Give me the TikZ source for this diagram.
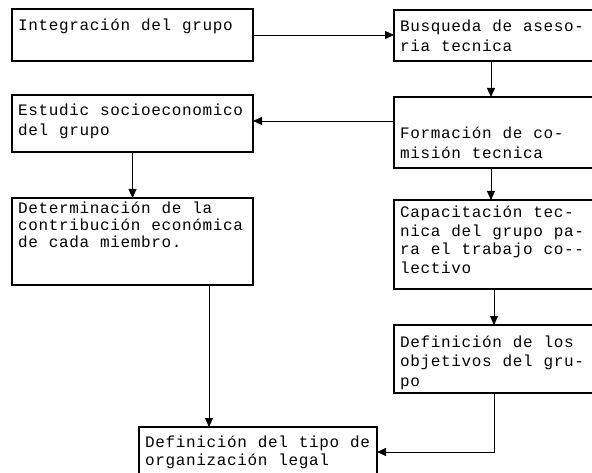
\documentclass[tikz,border=0pt]{standalone}
\usepackage{fontspec}
\newfontfamily\monotxt[LetterSpace=4,WordSpace=1.067]{Liberation Mono}
\usetikzlibrary{arrows.meta,calc}
\begin{document}
\begin{tikzpicture}[x=1pt,y=-1pt,
  box/.style={draw, line width=1.4pt, inner sep=0pt, outer sep=0pt},
  lbl/.style={anchor=north west, inner sep=0pt, align=left,
    font=\monotxt\fontsize{16}{#1}\selectfont},
  lbl/.default=18.5,
  conn/.style={line width=0.9pt, -{Triangle[length=9pt,width=8pt]}}]
\useasboundingbox (0,0) rectangle (592,473);
\clip (0,0) rectangle (592,473);
% boxes
\node[box, minimum width=241pt, minimum height=52pt] (A) at (132.5,35) {};
\node[box, minimum width=206pt, minimum height=51pt] (B) at (497,35.5) {};
\node[box, minimum width=206pt, minimum height=71pt] (C) at (497,132.5) {};
\node[box, minimum width=241pt, minimum height=57pt] (D) at (132.5,123.5) {};
\node[box, minimum width=241pt, minimum height=87pt] (E) at (132.5,241.5) {};
\node[box, minimum width=206pt, minimum height=89pt] (F) at (497,244.5) {};
\node[box, minimum width=206pt, minimum height=68pt] (G) at (497,359) {};
\node[box, minimum width=238pt, minimum height=58pt] (H) at (258,456) {};
% texts
\node[lbl] (tA) at ([shift={(6,8.25)}]A.north west) {\rule{0pt}{13pt}Integración del grupo};
\node[lbl=20] (tB) at ([shift={(6,8.25)}]B.north west) {\rule{0pt}{13pt}Busqueda de aseso-\\ria tecnica};
\node[lbl=20] (tC) at ([shift={(6,28.25)}]C.north west) {\rule{0pt}{13pt}Formación de co-\\misión tecnica};
\node[lbl=20] (tD) at ([shift={(6,7.25)}]D.north west) {\rule{0pt}{13pt}Estudic socioeconomico\\del grupo};
\node[lbl=17] (tE) at ([shift={(6,2.25)}]E.north west) {\rule{0pt}{13pt}Determinación de la\\contribución económica\\de cada miembro.};
\node[lbl=18.7] (tF) at ([shift={(6,4.25)}]F.north west) {\rule{0pt}{13pt}Capacitación tec-\\nica del grupo pa-\\ra el trabajo co-{}-\\lectivo};
\node[lbl=19.5] (tG) at ([shift={(6,9.25)}]G.north west) {\rule{0pt}{13pt}Definición de los\\objetivos del gru-\\po};
\node[lbl=18] (tH) at ([shift={(6,7.25)}]H.north west) {\rule{0pt}{13pt}Definición del tipo de\\organización legal};
% helper coordinates
\coordinate (xr) at (491,0);
\coordinate (xr2) at (494,0);
\coordinate (xe) at (209,0);
\coordinate (cy) at (0,121);
\coordinate (yh) at (0,452);
% connectors
\draw[conn] (A.east) -- (A.east -| B.west);
\draw[conn] (B.south -| xr) -- (C.north -| xr);
\draw[conn] (C.west |- cy) -- (D.east |- cy);
\draw[conn] (D.south) -- (E.north);
\draw[conn] (C.south -| xr) -- (F.north -| xr);
\draw[conn] (F.south -| xr2) -- (G.north -| xr2);
\draw[conn] (E.south -| xe) -- (H.north -| xe);
\draw[conn] (G.south -| xr2) |- (H.east |- yh);
\end{tikzpicture}
\end{document}
